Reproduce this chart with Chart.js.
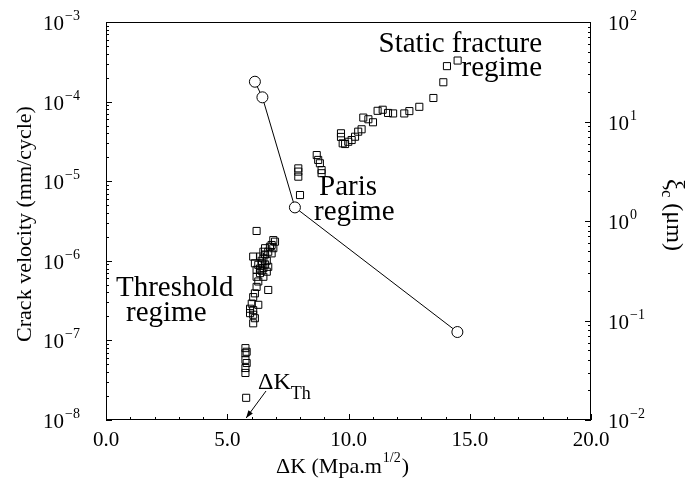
<!DOCTYPE html>
<html>
<head>
<meta charset="utf-8">
<script src="https://cdn.jsdelivr.net/npm/chart.js@4/dist/chart.umd.min.js"></script>
<style>
  html, body { margin: 0; padding: 0; background: #fff; }
</style>
</head>
<body>
<canvas id="chart" width="690" height="482"></canvas>
<script>
// crack growth data (squares), left axis
const deltaK = [
  5.80, 5.75, 5.75, 5.75, 5.80, 5.75, 5.75, 5.78,
  6.21, 6.90, 6.97, 6.83, 6.90, 6.76, 6.56, 6.69, 6.49, 6.83,
  6.07, 6.35, 6.49, 6.14, 6.28, 6.42, 6.49, 6.69, 6.63, 6.21,
  6.35, 6.21, 6.49, 6.28, 6.21, 6.69, 6.14, 6.07, 6.01, 6.28,
  5.94, 6.07, 5.94, 6.07, 6.14, 6.07,
  6.42, 6.56, 6.35, 6.56, 6.63, 6.42,
  7.93, 7.93, 7.93, 8.00, 8.69, 8.75, 8.82, 8.89, 8.89,
  9.69, 9.69, 9.76, 9.86, 9.99, 10.13, 10.27, 10.40, 10.54,
  10.61, 10.82, 11.01, 11.20, 11.41, 11.63, 11.84, 12.30, 12.51,
  12.92, 13.50, 13.91, 14.06, 14.50
];
const velocity = [
  7.2e-8, 8.0e-8, 6.9e-8, 5.7e-8, 5.2e-8, 4.5e-8, 3.9e-8, 1.9e-8,
  2.37e-6, 1.82e-6, 1.74e-6, 1.58e-6, 1.44e-6, 1.50e-6, 1.44e-6, 1.30e-6, 1.30e-6, 1.24e-6,
  1.13e-6, 1.13e-6, 1.07e-6, 9.3e-7, 8.9e-7, 9.3e-7, 8.1e-7, 8.4e-7, 7.3e-7, 7.7e-7,
  7.0e-7, 6.3e-7, 6.3e-7, 5.5e-7, 4.7e-7, 4.3e-7, 3.9e-7, 3.5e-7, 2.9e-7, 2.8e-7,
  2.5e-7, 2.4e-7, 2.2e-7, 2.1e-7, 1.9e-7, 1.64e-7,
  1.0e-6, 9.0e-7, 8.0e-7, 1.2e-6, 1.0e-6, 7.5e-7,
  1.45e-5, 1.32e-5, 1.14e-5, 6.7e-6, 2.13e-5, 1.85e-5, 1.68e-5, 1.38e-5, 1.26e-5,
  4.0e-5, 3.6e-5, 2.99e-5, 2.93e-5, 3.13e-5, 3.29e-5, 3.62e-5, 4.19e-5, 4.49e-5,
  6.3e-5, 6.0e-5, 5.5e-5, 7.66e-5, 7.9e-5, 7.2e-5, 7.1e-5, 7.1e-5, 7.6e-5,
  8.6e-5, 1.11e-4, 1.75e-4, 2.79e-4, 3.28e-4
];

// xi_c (circles), right axis
const circleK = [6.14, 6.45, 7.79, 14.49];
const xiC = [25.1, 17.5, 1.37, 0.0766];

// tick labels
const xTicks = [0, 5, 10, 15, 20];
const xTickLabels = ["0.0", "5.0", "10.0", "15.0", "20.0"];
const velExponents = [-8, -7, -6, -5, -4, -3];
const xiExponents = [-2, -1, 0, 1, 2];

const serif = "'Liberation Serif', 'DejaVu Serif', serif";

function sup(ctx, base, exp, x, y, align) {
  ctx.font = "21px " + serif;
  const bw = ctx.measureText(base).width;
  ctx.font = "14px " + serif;
  const ew = ctx.measureText(exp).width;
  let x0 = align === "right" ? x - bw - ew - 1 : x;
  ctx.font = "21px " + serif;
  ctx.textAlign = "left";
  ctx.fillText(base, x0, y + 8);
  ctx.font = "14px " + serif;
  ctx.fillText(exp, x0 + bw + 1, y - 2);
}

function expText(e) {
  return e < 0 ? "\u2212" + (-e) : String(e);
}

const decorations = {
  id: "decorations",
  afterDraw(chart) {
    const ctx = chart.ctx;
    const { left, right, top, bottom } = chart.chartArea;
    const sx = chart.scales.x, sy = chart.scales.y, sy2 = chart.scales.y2;
    ctx.save();
    ctx.strokeStyle = "#000";
    ctx.fillStyle = "#000";
    ctx.lineWidth = 1;

    // frame
    ctx.strokeRect(left + 0.5, top + 0.5, right - left - 1, bottom - top - 1);

    // x ticks (inward)
    ctx.beginPath();
    for (let v = 0; v <= 20; v++) {
      const px = Math.round(sx.getPixelForValue(v)) + 0.5;
      const len = v % 5 === 0 ? 6 : 3;
      ctx.moveTo(px, bottom);
      ctx.lineTo(px, bottom - len);
    }
    // left log ticks
    for (let e = -8; e <= -3; e++) {
      for (let k = 1; k <= 9; k++) {
        if (e === -3 && k > 1) break;
        const py = Math.round(sy.getPixelForValue(k * Math.pow(10, e))) + 0.5;
        const len = k === 1 ? 6 : 3;
        ctx.moveTo(left, py);
        ctx.lineTo(left + len, py);
      }
    }
    // right log ticks
    for (let e = -2; e <= 2; e++) {
      for (let k = 1; k <= 9; k++) {
        if (e === 2 && k > 1) break;
        const py = Math.round(sy2.getPixelForValue(k * Math.pow(10, e))) + 0.5;
        const len = k === 1 ? 6 : 3;
        ctx.moveTo(right, py);
        ctx.lineTo(right - len, py);
      }
    }
    ctx.stroke();

    // x tick labels
    ctx.font = "21px " + serif;
    ctx.textAlign = "center";
    ctx.textBaseline = "alphabetic";
    xTicks.forEach((v, i) => {
      ctx.fillText(xTickLabels[i], sx.getPixelForValue(v), bottom + 26);
    });

    // y tick labels
    velExponents.forEach(e => {
      sup(ctx, "10", expText(e), left - 26, sy.getPixelForValue(Math.pow(10, e)), "right");
    });
    xiExponents.forEach(e => {
      sup(ctx, "10", expText(e), right + 17, sy2.getPixelForValue(Math.pow(10, e)), "left");
    });

    // left title
    ctx.save();
    ctx.translate(25, (top + bottom) / 2 + 3);
    ctx.rotate(-Math.PI / 2);
    ctx.font = "22px " + serif;
    ctx.textAlign = "center";
    ctx.textBaseline = "middle";
    ctx.fillText("Crack velocity (mm/cycle)", 0, 0);
    ctx.restore();

    // right title
    ctx.save();
    ctx.translate(667, 215);
    ctx.rotate(Math.PI / 2);
    ctx.textAlign = "left";
    ctx.font = "25px " + serif;
    const w1 = ctx.measureText("\u03BE").width;
    ctx.font = "16px " + serif;
    const w2 = ctx.measureText("c").width;
    ctx.font = "24px " + serif;
    const w3 = ctx.measureText(" (\u03BCm)").width;
    let tx = -(w1 + w2 + w3) / 2;
    ctx.font = "25px " + serif;
    ctx.fillText("\u03BE", tx, 0);
    ctx.font = "16px " + serif;
    ctx.fillText("c", tx + w1, 5);
    ctx.font = "24px " + serif;
    ctx.fillText(" (\u03BCm)", tx + w1 + w2, 0);
    ctx.restore();

    // x title
    ctx.textAlign = "left";
    ctx.font = "22px " + serif;
    const a = "\u0394K (Mpa.m";
    const aw = ctx.measureText(a).width;
    ctx.font = "14px " + serif;
    const bw = ctx.measureText("1/2").width;
    ctx.font = "22px " + serif;
    const cw = ctx.measureText(")").width;
    let xx = (left + right) / 2 - 7 - (aw + bw + cw) / 2;
    ctx.fillText(a, xx, 473);
    ctx.font = "14px " + serif;
    ctx.fillText("1/2", xx + aw + 1, 462);
    ctx.font = "22px " + serif;
    ctx.fillText(")", xx + aw + bw + 2, 473);

    // regime annotations
    ctx.font = "29px " + serif;
    ctx.textAlign = "right";
    ctx.fillText("Static fracture", 542, 52);
    ctx.fillText("regime", 542, 76);
    ctx.textAlign = "left";
    ctx.fillText("Paris", 319, 195);
    ctx.fillText("regime", 314, 220);
    ctx.fillText("Threshold", 116, 296);
    ctx.fillText("regime", 126, 321);

    // delta K threshold label + arrow
    ctx.font = "24px " + serif;
    ctx.fillText("\u0394K", 258, 389);
    const dw = ctx.measureText("\u0394K").width;
    ctx.font = "18px " + serif;
    ctx.fillText("Th", 258 + dw, 399);

    const ax = sx.getPixelForValue(5.78), ay = bottom - 2;
    const bx = 266, by = 391;
    ctx.beginPath();
    ctx.moveTo(bx, by);
    ctx.lineTo(ax, ay);
    ctx.stroke();
    const ang = Math.atan2(ay - by, ax - bx);
    ctx.beginPath();
    ctx.moveTo(ax, ay);
    ctx.lineTo(ax - 8 * Math.cos(ang - 0.35), ay - 8 * Math.sin(ang - 0.35));
    ctx.lineTo(ax - 8 * Math.cos(ang + 0.35), ay - 8 * Math.sin(ang + 0.35));
    ctx.closePath();
    ctx.fill();

    ctx.restore();
  }
};

new Chart(document.getElementById("chart"), {
  type: "scatter",
  data: {
    datasets: [
      {
        label: "Crack velocity",
        data: deltaK.map((k, i) => ({ x: k, y: velocity[i] })),
        yAxisID: "y",
        pointStyle: "rect",
        pointRadius: 5,
        borderColor: "#000",
        backgroundColor: "rgba(0,0,0,0)",
        borderWidth: 1,
      },
      {
        label: "xi_c",
        data: circleK.map((k, i) => ({ x: k, y: xiC[i] })),
        yAxisID: "y2",
        showLine: true,
        pointStyle: "circle",
        pointRadius: 5.5,
        borderColor: "#000",
        pointBackgroundColor: "#fff",
        backgroundColor: "#fff",
        borderWidth: 1,
      },
    ],
  },
  options: {
    responsive: false,
    animation: false,
    layout: { padding: { top: 22, left: 0, right: 0, bottom: 0 } },
    plugins: {
      legend: { display: false },
      tooltip: { enabled: false },
    },
    scales: {
      x: {
        type: "linear",
        min: 0,
        max: 20,
        ticks: { display: false },
        grid: { display: false },
        border: { display: false },
        afterFit: s => { s.height = 62; },
      },
      y: {
        type: "logarithmic",
        position: "left",
        min: 1e-8,
        max: 1e-3,
        ticks: { display: false },
        grid: { display: false },
        border: { display: false },
        afterFit: s => { s.width = 106; },
      },
      y2: {
        type: "logarithmic",
        position: "right",
        min: 0.01,
        max: 100,
        ticks: { display: false },
        grid: { display: false },
        border: { display: false },
        afterFit: s => { s.width = 99; },
      },
    },
  },
  plugins: [decorations],
});
</script>
</body>
</html>
